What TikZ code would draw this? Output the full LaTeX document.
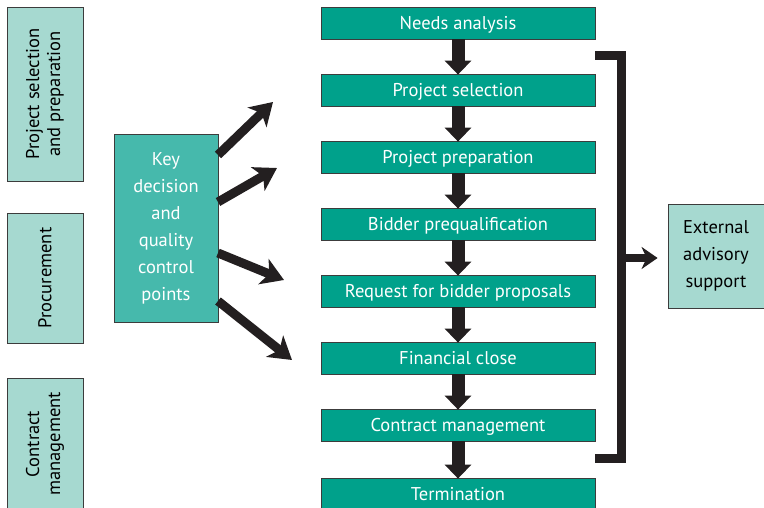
\documentclass[tikz,border=0pt]{standalone}
\usepackage{fontspec}
\setmainfont{PT Sans}
\usetikzlibrary{arrows.meta}
\definecolor{darkteal}{RGB}{0,161,139}
\definecolor{midteal}{RGB}{70,185,172}
\definecolor{lightteal}{RGB}{166,217,208}
\definecolor{edge}{RGB}{60,60,60}
\definecolor{arrowblack}{RGB}{35,31,32}
\tikzset{
  stepbox/.style={draw=edge, line width=0.8pt, fill=darkteal, text=white, minimum width=274pt, minimum height=32pt, inner sep=0pt, text height=16pt, text depth=3pt, font=\fontsize{18.5}{20}\selectfont},
  phasebox/.style={draw=edge, line width=0.8pt, fill=lightteal, text=black, minimum height=76pt, inner sep=0pt, align=center, rotate=90, font=\fontsize{18.5}{21}\selectfont},
  keybox/.style={draw=edge, line width=0.8pt, fill=midteal, text=white, minimum width=104pt, minimum height=188pt, inner sep=0pt, align=center, font=\fontsize{18.5}{27}\selectfont},
  extbox/.style={draw=edge, line width=0.8pt, fill=lightteal, text=black, minimum width=96pt, minimum height=104pt, inner sep=0pt, align=center, font=\fontsize{18.5}{27}\selectfont},
  downarrow/.style={arrowblack, line width=13pt, -{Triangle[length=14pt,width=26pt]}, shorten >=-1pt},
  diagarrow/.style={arrowblack, line width=9pt, -{Stealth[length=22pt,width=27pt,inset=6pt]}},
  bracketline/.style={arrowblack, line width=9pt, line join=miter},
}
\begin{document}
\begin{tikzpicture}[x=1pt,y=-1pt]
\useasboundingbox (0,0) rectangle (764,508);
% phase boxes
\node[phasebox, minimum width=174pt] (p1) at (45,94) {Project selection\\and preparation};
\node[phasebox, minimum width=130pt] (p2) at (45,278) {Procurement};
\node[phasebox, minimum width=132pt] (p3) at (45,444) {Contract\\management};
% steps
\node[stepbox] (s1) at (458,23) {Needs analysis};
\node[stepbox] (s2) at (458,90) {Project selection};
\node[stepbox] (s3) at (458,157) {Project preparation};
\node[stepbox] (s4) at (458,224) {Bidder prequalification};
\node[stepbox] (s5) at (458,291) {Request for bidder proposals};
\node[stepbox] (s6) at (458,358) {Financial close};
\node[stepbox] (s7) at (458,425) {Contract management};
\node[stepbox] (s8) at (458,494) {Termination};
% down arrows
\foreach \a/\b in {s1/s2,s2/s3,s3/s4,s4/s5,s5/s6,s6/s7,s7/s8}
  \draw[downarrow] (\a.south) -- (\b.north);
% key box
\node[keybox] (key) at (166,228) {Key\\decision\\and\\quality\\control\\points};
\coordinate (k1) at (218,155);
\coordinate (k2) at (218,202);
\coordinate (k3) at (218,253);
\coordinate (k4) at (218,301);
\coordinate (t1) at (273,102);
\coordinate (t2) at (277,168);
\coordinate (t3) at (284,280);
\coordinate (t4) at (292,360);
\draw[diagarrow] (k1) -- (t1);
\draw[diagarrow] (k2) -- (t2);
\draw[diagarrow] (k3) -- (t3);
\draw[diagarrow] (k4) -- (t4);
% bracket
\coordinate (b1) at (595,56);
\coordinate (b2) at (621,56);
\coordinate (b3) at (621,458);
\coordinate (b4) at (595,458);
\draw[bracketline] (b1) -- (b2) -- (b3) -- (b4);
% external
\node[extbox] (ext) at (716,256) {External\\advisory\\support};
\coordinate (bm) at (621,258);
\draw[diagarrow, line width=8pt, -{Stealth[length=16pt,width=22pt,inset=5pt]}] (bm) -- ([xshift=-10pt]ext.west |- bm);
\end{tikzpicture}
\end{document}
